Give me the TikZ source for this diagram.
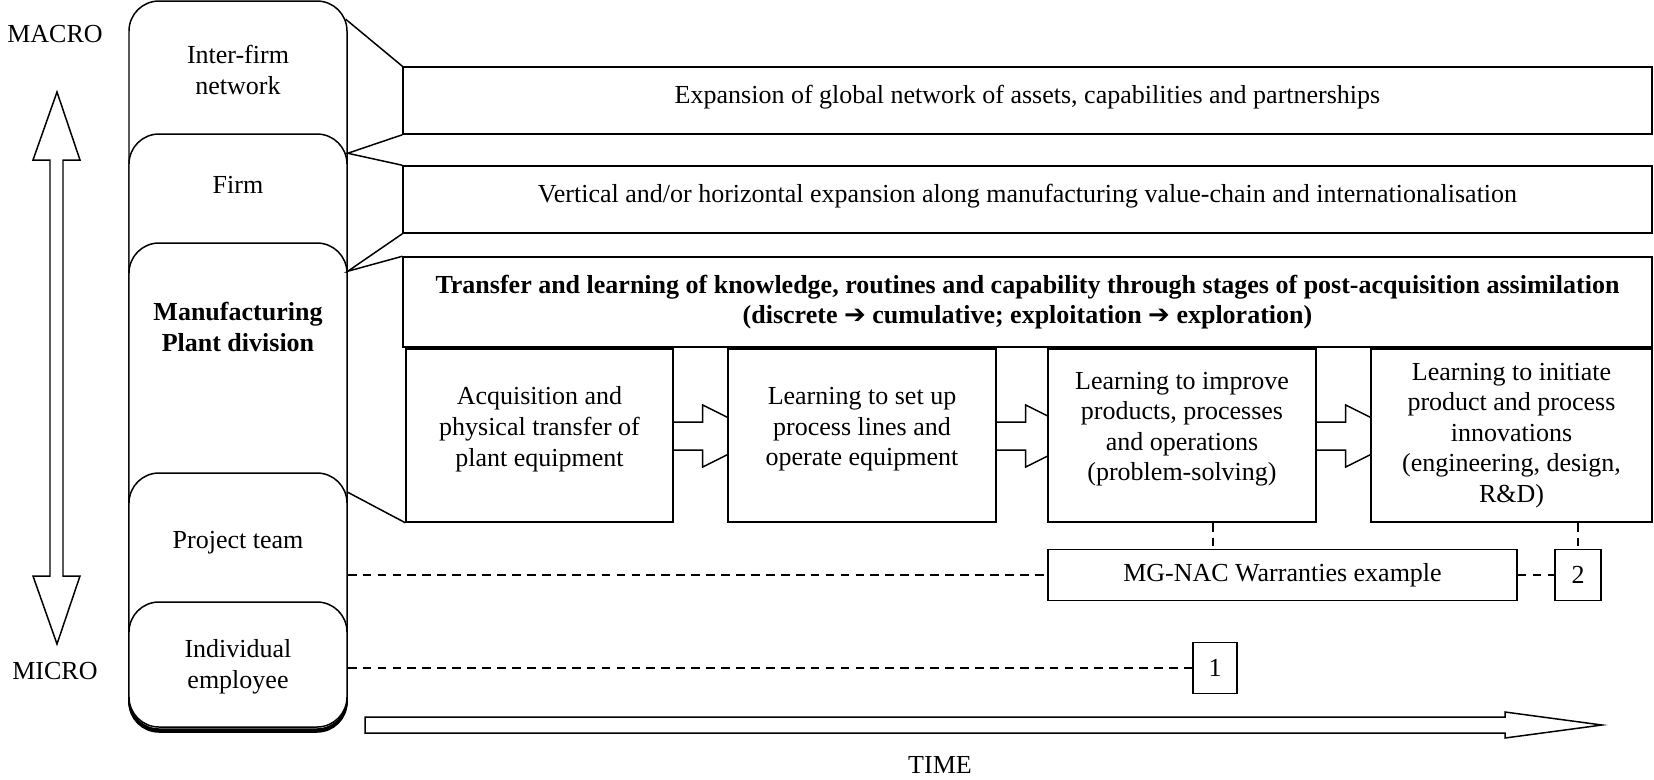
\documentclass[tikz,border=0pt]{standalone}
\usepackage{fontspec}
\setmainfont{Liberation Serif}
\newfontfamily\arrowfont{DejaVu Sans}
\usetikzlibrary{positioning, calc, backgrounds, fit}

\begin{document}
\begin{tikzpicture}[x=0.02cm, y=-0.02cm,
  every node/.style={align=center, font=\fontsize{14.8}{17.4}\selectfont},
  bold/.style={font=\fontsize{14.8}{17.4}\selectfont\bfseries},
  lvl/.style={draw, fill=white, rounded corners=0.6cm,
    line width=0.85pt, inner sep=0pt},
  wide/.style={draw, fill=white, line width=0.85pt, inner sep=0pt,
    minimum width=24.98cm},
  stage/.style={draw, fill=white, line width=0.85pt, inner sep=0pt,
    minimum width=5.36cm, minimum height=3.46cm},
  ex/.style={draw, fill=white, line width=0.85pt, inner sep=0pt,
    minimum height=1.02cm},
  link/.style={line width=0.85pt},
  dline/.style={line width=0.85pt, dash pattern=on 5pt off 3.5pt},
  blockarr/.style={draw, fill=white, line width=0.85pt, line join=miter}
]
\useasboundingbox (0,0) rectangle (1654,779);
% Macro / micro scale
\node (macro) at (55,34) {MACRO};
\node (micro) at (55,671) {MICRO};
\draw[blockarr] (57,92) -- (80,160) -- (63,160) -- (63,576) -- (80,576)
  -- (57,644) -- (33,576) -- (50,576) -- (50,160) -- (33,160) -- cycle;
% Levels
\node[lvl, fit={(129,1) (347,732)}] (inter) {};
\node[lvl, fit={(129,134) (347,731)}] (firm) {};
\node[lvl, fit={(129,243) (347,730)}] (mfg) {};
\node[lvl, fit={(129,473) (347,729)}] (proj) {};
\node[lvl, fit={(129,602) (347,727)}] (indiv) {};
\node (intertxt) at (238,70) {Inter-firm\\network};
\node (firmtxt) at (238,185) {Firm};
\node[bold] (mfgtxt) at (238,327) {Manufacturing\\Plant division};
\node (projtxt) at (238,543) {Project team};
\node (indivtxt) at (238,667) {Individual\\employee};
% Expansion boxes
\node[wide, minimum height=1.34cm, text depth=0.23cm] (expnet) at (1027.5,100.5)
  {Expansion of global network of assets, capabilities and partnerships};
\node[wide, minimum height=1.34cm, text depth=0.23cm] (expvert) at (1027.5,199.5)
  {Vertical and/or horizontal expansion along manufacturing value-chain and internationalisation};
\node[wide, bold, minimum height=1.8cm] (transfer) at (1027.5,302)
  {Transfer and learning of knowledge, routines and capability through stages of post-acquisition assimilation\\
  (discrete {\arrowfont\bfseries ➔} cumulative; exploitation {\arrowfont\bfseries ➔} exploration)};
% Stages
\node[stage, minimum width=5.34cm, text depth=0.36cm] (s1) at (539.5,435.5)
  {Acquisition and\\physical transfer of\\plant equipment};
\node[stage, text depth=0.36cm] (s2) at (862,435.5)
  {Learning to set up\\process lines and\\operate equipment};
\node[stage, text depth=0.36cm] (s3) at (1182,435.5)
  {Learning to improve\\products, processes\\and operations\\(problem-solving)};
\node[stage, minimum width=5.62cm] (s4) at (1511.5,435.5)
  {Learning to initiate\\product and process\\innovations\\(engineering, design,\\R\&D)};
\begin{scope}[on background layer]
\foreach \a in {s1,s2,s3}
  \draw[blockarr] ($(\a.east)+(-20,-13.5)$) -- ++(49,0) -- ++(0,-17)
    -- ++(62,31) -- ++(-62,31) -- ++(0,-17) -- ++(-49,0) -- cycle;
\end{scope}
% Links from levels
\draw[link] ($(inter.north east)+(-2,19)$) -- (expnet.north west);
\draw[link] (expnet.south west) -- ($(firm.north east)+(0,20)$) -- (expvert.north west);
\draw[link] (expvert.south west) -- ($(mfg.north east)+(0,29)$) -- (transfer.north west);
\draw[link] ($(proj.north east)+(0,20)$) -- (s1.south west);
% Examples
\node[ex, minimum width=9.38cm] (warr) at (1282.5,575) {MG-NAC Warranties example};
\node[ex, minimum width=0.92cm] (two) at (1578,575) {2};
\node[ex, minimum width=0.88cm] (one) at (1215,668) {1};
\draw[dline] (warr.west -| proj.east) -- (warr.west);
\draw[dline] (warr.east) -- (two.west);
\draw[dline] ($(s3.south)+(31,0)$) coordinate (d3) -- (d3 |- warr.north);
\draw[dline] (s4.south -| two.north) -- (two.north);
\draw[dline] (one.west -| indiv.east) -- (one.west);
% Time
\draw[blockarr] (365,717) -- (1505,717) -- (1505,712) -- (1602,725)
  -- (1505,738) -- (1505,733) -- (365,733) -- cycle;
\node (time) at (940,765) {TIME};
\end{tikzpicture}
\end{document}
